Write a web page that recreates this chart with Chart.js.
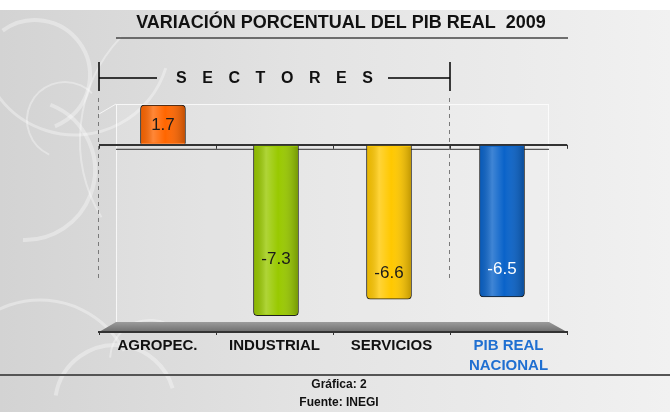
<!DOCTYPE html>
<html><head><meta charset="utf-8">
<script src="https://cdn.jsdelivr.net/npm/chart.js@4.4.1/dist/chart.umd.min.js"></script>
<style>html,body{margin:0;padding:0;background:#fff}#wrap{width:670px;height:412px;position:relative}</style>
</head><body><div id="wrap"><canvas id="c" width="670" height="412"></canvas></div>
<script>
const categories = ['AGROPEC.', 'INDUSTRIAL', 'SERVICIOS', ['PIB REAL', 'NACIONAL']];
const values = [1.7, -7.3, -6.6, -6.5];
const valueLabels = ['1.7', '-7.3', '-6.6', '-6.5'];
const chartTitle = 'VARIACIÓN PORCENTUAL DEL PIB REAL  2009';
const groupLabel = 'SECTORES';
const footerLines = ['Gráfica: 2', 'Fuente: INEGI'];

const FONT = "'Liberation Sans', Arial, sans-serif";
const barColors = ['#ff6600', '#99c900', '#ffc800', '#0a63c9'];
const labelColors = ['#1a1a1a', '#1a1a1a', '#1a1a1a', '#ffffff'];
const tickColors = ['#111111', '#111111', '#111111', '#1f6fd1'];

const decoPlugin = {
  id: 'deco',
  beforeDraw(chart) {
    const ctx = chart.ctx, W = chart.width, H = chart.height, a = chart.chartArea;
    const ys = chart.scales.y;
    const zero = ys.getPixelForValue(0);
    const step = (a.right - a.left) / categories.length;
    ctx.save();
    ctx.fillStyle = '#ffffff';
    ctx.fillRect(0, 0, W, H);
    const g = ctx.createLinearGradient(0, 0, W, 0);
    g.addColorStop(0, '#d3d3d3');
    g.addColorStop(0.45, '#e3e3e3');
    g.addColorStop(1, '#f1f1f1');
    ctx.fillStyle = g;
    ctx.fillRect(0, 10, W, H - 10);
    // swirls (decorative background)
    ctx.strokeStyle = 'rgba(255,255,255,0.35)';
    const arcs = [
      [35, 75, 55, 4, -2.2, 1.2], [75, 40, 95, 3, 0.3, 2.6], [25, 170, 70, 4, -1.2, 1.6],
      [65, 120, 38, 2, 2.0, 5.5], [115, 405, 60, 4, 3.3, 6.0], [40, 395, 95, 3, 3.6, 5.8],
      [230, 140, 150, 2, 2.6, 3.9], [150, 360, 40, 2, 3.2, 5.5]
    ];
    arcs.forEach(([cx, cy, r, lw, s, e]) => { ctx.lineWidth = lw; ctx.beginPath(); ctx.arc(cx, cy, r, s, e); ctx.stroke(); });
    // back wall
    ctx.fillStyle = 'rgba(255,255,255,0.15)';
    ctx.fillRect(116, 104, 433, 218);
    ctx.strokeStyle = 'rgba(255,255,255,0.75)';
    ctx.lineWidth = 1;
    ctx.strokeRect(116.5, 104.5, 432, 218);
    ctx.beginPath(); ctx.moveTo(99, 114); ctx.lineTo(116, 104); ctx.stroke();
    // floor
    const fg = ctx.createLinearGradient(0, 321, 0, 332);
    fg.addColorStop(0, '#a0a0a0');
    fg.addColorStop(1, '#6e6e6e');
    ctx.fillStyle = fg;
    ctx.beginPath();
    ctx.moveTo(a.left, a.bottom); ctx.lineTo(a.left + 17, a.bottom - 10);
    ctx.lineTo(a.right - 18, a.bottom - 10); ctx.lineTo(a.right, a.bottom); ctx.closePath();
    ctx.fill();
    // zero back line + ticks
    ctx.strokeStyle = '#333'; ctx.lineWidth = 1;
    ctx.beginPath(); ctx.moveTo(a.left + 17, zero + 4.5); ctx.lineTo(a.right - 18, zero + 4.5); ctx.stroke();
    for (let i = 0; i <= categories.length; i++) {
      const x = Math.round(a.left + i * step) + 0.5;
      ctx.beginPath(); ctx.moveTo(x, zero); ctx.lineTo(x, zero + 4); ctx.stroke();
    }
    // dashed separators
    ctx.strokeStyle = '#7a7a7a'; ctx.setLineDash([4, 4]);
    [a.left, a.left + 3 * step].forEach(x => {
      ctx.beginPath(); ctx.moveTo(Math.round(x) - 0.5, 98); ctx.lineTo(Math.round(x) - 0.5, 278); ctx.stroke();
    });
    ctx.setLineDash([]);
    // bracket
    const bl = a.left, br = a.left + 3 * step;
    ctx.strokeStyle = '#000'; ctx.lineWidth = 1.5;
    ctx.beginPath();
    ctx.moveTo(bl, 62); ctx.lineTo(bl, 91);
    ctx.moveTo(bl, 78); ctx.lineTo(bl + 58, 78);
    ctx.moveTo(br - 62, 78); ctx.lineTo(br, 78);
    ctx.moveTo(br, 62); ctx.lineTo(br, 91);
    ctx.stroke();
    ctx.fillStyle = '#111';
    ctx.font = 'bold 16px ' + FONT;
    ctx.textBaseline = 'middle'; ctx.textAlign = 'left';
    const letters = groupLabel.split('');
    const widths = letters.map(l => ctx.measureText(l).width);
    const total = 197, gap = (total - widths.reduce((s, w) => s + w, 0)) / (letters.length - 1);
    let lx = (bl + br) / 2 - total / 2;
    letters.forEach((l, i) => { ctx.fillText(l, lx, 79); lx += widths[i] + gap; });
    // title
    ctx.textAlign = 'center';
    ctx.font = 'bold 18px ' + FONT;
    ctx.fillText(chartTitle, 341, 23);
    ctx.strokeStyle = '#444'; ctx.lineWidth = 1.5;
    ctx.beginPath(); ctx.moveTo(116, 38); ctx.lineTo(568, 38); ctx.stroke();
    // bottom rule + footer
    ctx.strokeStyle = '#555'; ctx.lineWidth = 2;
    ctx.beginPath(); ctx.moveTo(0, 375); ctx.lineTo(W, 375); ctx.stroke();
    ctx.font = 'bold 12px ' + FONT;
    ctx.fillStyle = '#111';
    ctx.fillText(footerLines[0], 339, 385);
    ctx.fillText(footerLines[1], 339, 403);
    ctx.restore();
  },
  afterDatasetsDraw(chart, args, opts) {
    const ctx = chart.ctx;
    const meta = chart.getDatasetMeta(0);
    const zero = chart.scales.y.getPixelForValue(0);
    meta.data.forEach((el, i) => {
      const p = el.getProps(['x', 'y', 'base', 'width'], true);
      const left = p.x - p.width / 2, top = Math.min(p.y, p.base), h = Math.abs(p.base - p.y);
      ctx.save();
      ctx.beginPath(); ctx.rect(left + 1, top + 1, p.width - 2, h - 2); ctx.clip();
      const g = ctx.createLinearGradient(left, 0, left + p.width, 0);
      g.addColorStop(0, 'rgba(0,0,0,0.08)');
      g.addColorStop(0.28, 'rgba(255,255,255,0.22)');
      g.addColorStop(0.55, 'rgba(255,255,255,0)');
      g.addColorStop(1, 'rgba(0,0,0,0.25)');
      ctx.fillStyle = g;
      ctx.fillRect(left, top, p.width, h);
      ctx.restore();
      ctx.save();
      ctx.font = '17px ' + FONT;
      ctx.fillStyle = labelColors[i];
      ctx.textAlign = 'center'; ctx.textBaseline = 'middle';
      const ly = zero + opts.labelFrac[i] * (p.y - zero);
      ctx.fillText(valueLabels[i], p.x, ly);
      ctx.restore();
    });
  }
};

new Chart(document.getElementById('c'), {
  type: 'bar',
  data: {
    labels: categories,
    datasets: [{
      data: values.map((v, i) => ({ x: i, y: v })),
      xAxisID: 'xb',
      backgroundColor: barColors,
      borderColor: '#1e1e1e',
      borderWidth: 1,
      borderRadius: 4,
      borderSkipped: 'start',
      barThickness: 45
    }]
  },
  options: {
    responsive: false,
    devicePixelRatio: 1,
    animation: false,
    layout: { padding: { top: 98, left: 99, right: 103, bottom: 0 } },
    plugins: {
      legend: { display: false },
      tooltip: { enabled: false },
      title: { display: false },
      deco: { labelFrac: [0.5, 0.67, 0.83, 0.82] }
    },
    scales: {
      xb: {
        type: 'linear', display: false, offset: false, min: -0.566, max: 3.575
      },
      x: {
        type: 'category',
        offset: true,
        grid: { display: true, offset: true, drawOnChartArea: false, drawTicks: true, tickLength: 3, color: '#333' },
        border: { display: true, color: '#333', width: 2 },
        ticks: {
          autoSkip: false, maxRotation: 0, padding: 1,
          font: { family: FONT, size: 15, weight: 'bold', lineHeight: '20px' },
          color: c => tickColors[c.index]
        },
        afterFit: s => { s.height = 80; }
      },
      y: {
        min: -8, max: 2,
        ticks: { display: false, stepSize: 1 },
        grid: { drawTicks: false, lineWidth: 2, color: c => (c.tick && c.tick.value === 0) ? '#333' : 'rgba(0,0,0,0)' },
        border: { display: false },
        afterFit: s => { s.width = 0; }
      }
    }
  },
  plugins: [decoPlugin]
});
</script></body></html>
